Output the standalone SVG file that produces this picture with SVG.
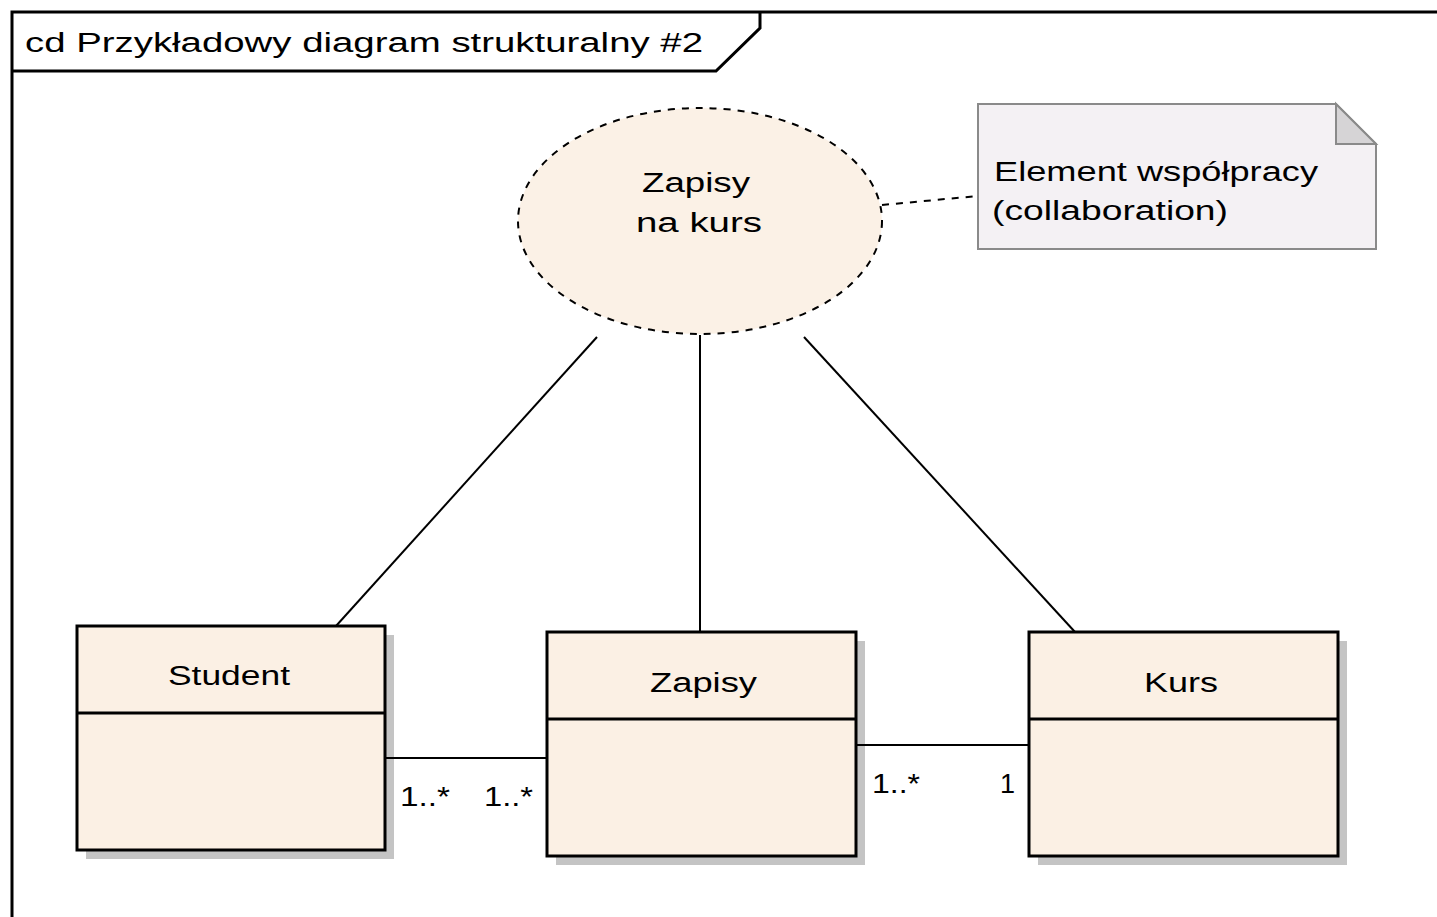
<svg xmlns="http://www.w3.org/2000/svg" width="1437" height="917" viewBox="0 0 1437 917">
  <style>
    text { font-family: "Liberation Sans", "DejaVu Sans", sans-serif; font-size: 27px; fill: #000; }
    .frame { fill: none; stroke: #000; stroke-width: 3; }
    .cls { fill: #FBF0E4; stroke: #000; stroke-width: 3; }
    .shadow { fill: #C4C4C4; }
    .assoc { fill: none; stroke: #000; stroke-width: 2; }
    .dash { fill: none; stroke: #000; stroke-width: 2; stroke-dasharray: 7 7; }
  </style>
  <rect width="1437" height="917" fill="#FFFFFF"/>

  <!-- diagram frame with name tab -->
  <g id="frame">
    <path class="frame" d="M1437,12 H12 V917"/>
    <path class="frame" d="M760,12 V28 L716,71 H12"/>
    <text x="25" y="52" textLength="678" lengthAdjust="spacingAndGlyphs">cd Przykładowy diagram strukturalny #2</text>
  </g>

  <!-- collaboration -->
  <g id="collab-zapisy-na-kurs">
    <ellipse cx="700" cy="221" rx="182" ry="113" fill="#FBF1E6" stroke="#000" stroke-width="2" stroke-dasharray="7 7"/>
    <text x="642" y="192" textLength="108" lengthAdjust="spacingAndGlyphs">Zapisy</text>
    <text x="636" y="232" textLength="126" lengthAdjust="spacingAndGlyphs">na kurs</text>
  </g>

  <!-- note -->
  <g id="note-collaboration">
    <path d="M978,104 H1336 L1376,144 V249 H978 Z" fill="#F4F1F4" stroke="#8A8A8A" stroke-width="2"/>
    <path d="M1336,104 V144 H1376 Z" fill="#D6D4D6" stroke="#8A8A8A" stroke-width="2"/>
    <text x="994" y="181" textLength="324" lengthAdjust="spacingAndGlyphs">Element współpracy</text>
    <text x="992" y="220" textLength="236" lengthAdjust="spacingAndGlyphs">(collaboration)</text>
  </g>

  <!-- class Student -->
  <g id="class-student">
    <rect class="shadow" x="86" y="635" width="308" height="224"/>
    <rect class="cls" x="77" y="626" width="308" height="224"/>
    <line x1="77" y1="713" x2="385" y2="713" stroke="#000" stroke-width="3"/>
    <text x="168" y="685" textLength="122" lengthAdjust="spacingAndGlyphs">Student</text>
  </g>

  <!-- class Zapisy -->
  <g id="class-zapisy">
    <rect class="shadow" x="556" y="641" width="309" height="224"/>
    <rect class="cls" x="547" y="632" width="309" height="224"/>
    <line x1="547" y1="719" x2="856" y2="719" stroke="#000" stroke-width="3"/>
    <text x="650" y="692" textLength="107" lengthAdjust="spacingAndGlyphs">Zapisy</text>
  </g>

  <!-- class Kurs -->
  <g id="class-kurs">
    <rect class="shadow" x="1038" y="641" width="309" height="224"/>
    <rect class="cls" x="1029" y="632" width="309" height="224"/>
    <line x1="1029" y1="719" x2="1338" y2="719" stroke="#000" stroke-width="3"/>
    <text x="1144" y="692" textLength="74" lengthAdjust="spacingAndGlyphs">Kurs</text>
  </g>

  <!-- connectors, drawn over the class shadows -->
  <g id="connectors">
    <line class="assoc" x1="597" y1="337" x2="336" y2="626"/>
    <line class="assoc" x1="700" y1="335" x2="700" y2="632"/>
    <line class="assoc" x1="804" y1="337" x2="1075" y2="632"/>
    <line class="assoc" x1="385" y1="758" x2="547" y2="758"/>
    <line class="assoc" x1="856" y1="745" x2="1029" y2="745"/>
    <line class="dash" x1="882" y1="205" x2="978" y2="196"/>
    <text x="400" y="806" textLength="50" lengthAdjust="spacingAndGlyphs">1..*</text>
    <text x="484" y="806" textLength="49" lengthAdjust="spacingAndGlyphs">1..*</text>
    <text x="872" y="793" textLength="48" lengthAdjust="spacingAndGlyphs">1..*</text>
    <text x="1000" y="793">1</text>
  </g>
</svg>
